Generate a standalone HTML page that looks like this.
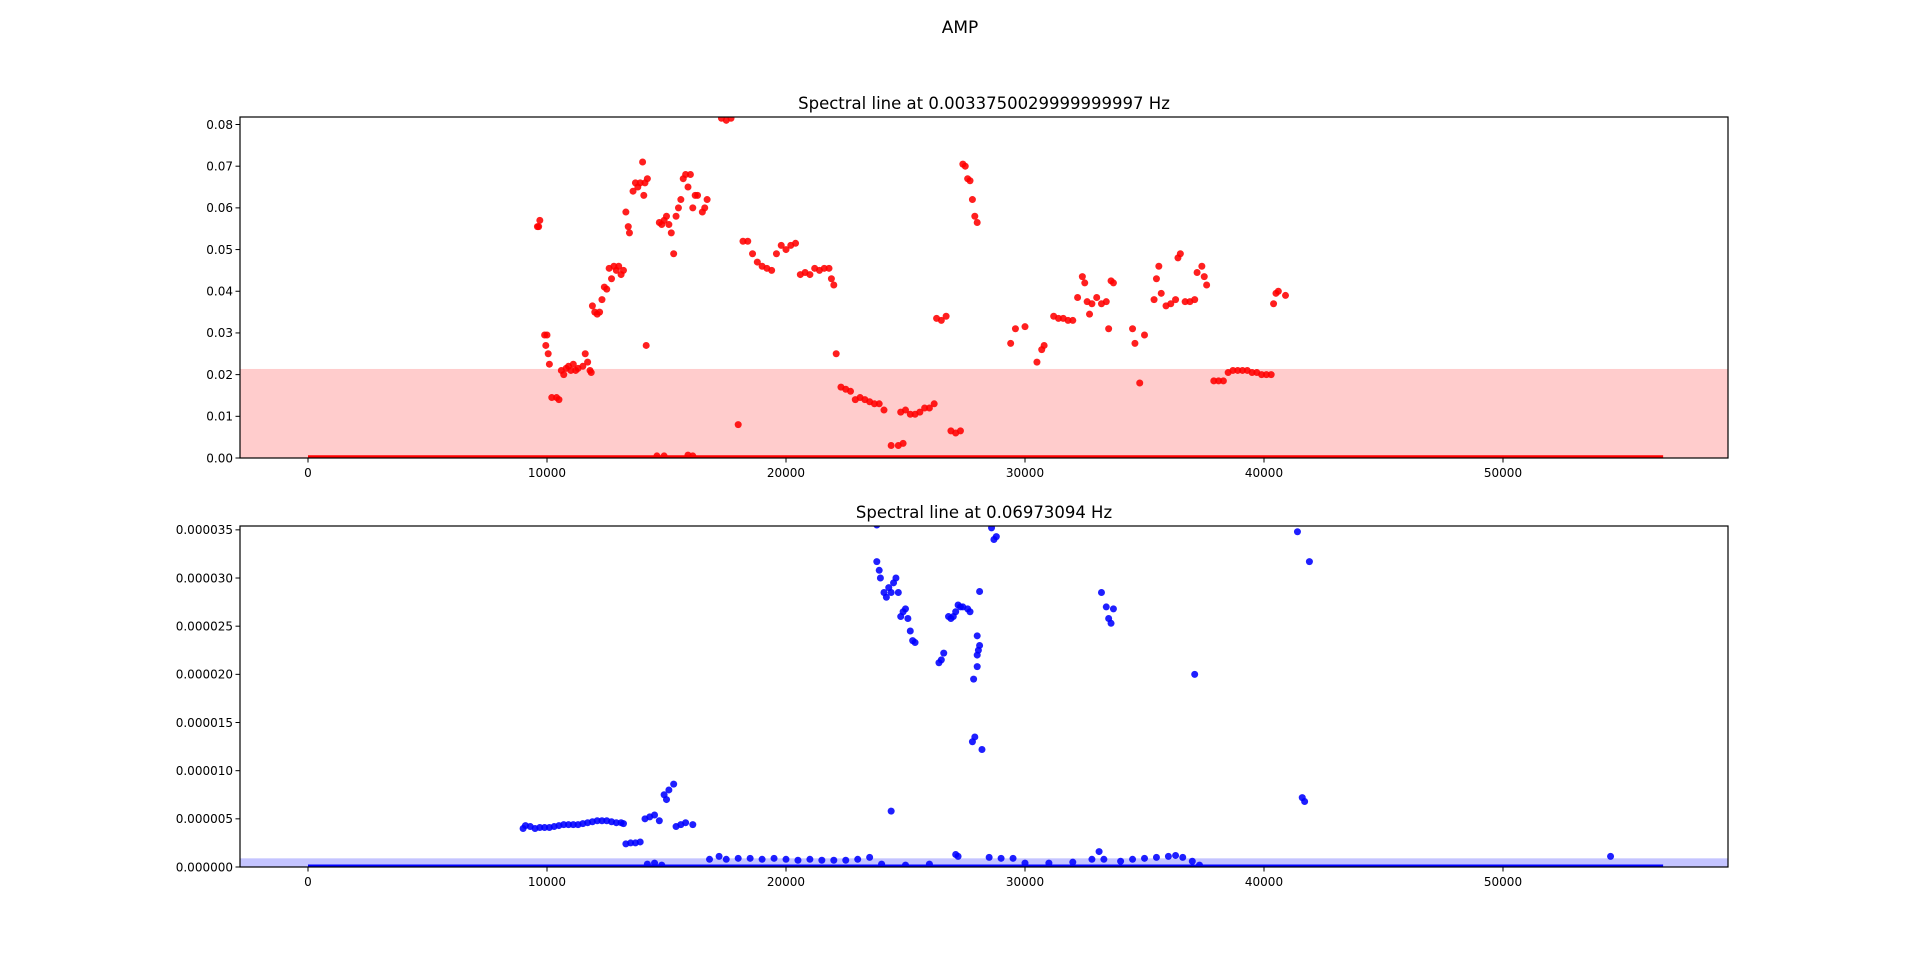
<!DOCTYPE html>
<html><head><meta charset="utf-8"><style>
html,body{margin:0;padding:0;background:#fff;}
svg{display:block;font-family:"DejaVu Sans","Liberation Sans",sans-serif;}
</style></head><body>
<svg id="fig" width="1920" height="974" viewBox="0 0 1920 974">
<text x="960" y="33" text-anchor="middle" font-size="17">AMP</text>
</svg>
<script>
// ---- data ----
const xTicks = [0,10000,20000,30000,40000,50000];
const topYTicks = [0,0.01,0.02,0.03,0.04,0.05,0.06,0.07,0.08];
const topYTickLabels = ["0.00","0.01","0.02","0.03","0.04","0.05","0.06","0.07","0.08"];
const botYTicks = [0,5e-6,10e-6,15e-6,20e-6,25e-6,30e-6,35e-6];
const botYTickLabels = ["0.000000","0.000005","0.000010","0.000015","0.000020","0.000025","0.000030","0.000035"];
const topThreshold = 0.02136;
const botThreshold = 0.9e-6;
const baseLineStart = 0, baseLineEnd = 56700;
const redX = [9600,9700,9650,9900,9950,10000,10050,10100,10200,10400,10500,10600,10700,10800,10900,11000,11100,11200,11300,11500,11600,11700,11800,11850,
11900,12000,12100,12200,12300,12400,12500,12600,12700,12800,12900,13000,13100,13200,13300,13400,13450,
13600,13700,13800,13900,14000,14100,14200,14150,14050,
14700,14800,14900,15000,15100,15200,15300,15400,15500,15600,15700,15800,15900,16000,16100,16200,16300,16500,16600,16700,
17300,17500,17700,18000,
18200,18400,18600,18800,19000,19200,19400,19600,19800,20000,20200,20400,20600,20800,21000,21200,21400,21600,21800,21900,22000,
22100,22300,22500,22700,22900,23100,23300,23500,23700,23900,24100,24400,24700,24900,
24800,25000,25200,25400,25600,25800,26000,26200,26300,26500,26700,26900,27100,27300,
27400,27500,27600,27700,27800,27900,28000,
29400,29600,30000,30500,30700,30800,
31200,31400,31600,31800,32000,32200,32400,32500,32600,32700,32800,33000,33200,33400,33500,33600,33700,
34500,34600,34800,35000,
35400,35500,35600,35700,35900,36100,36300,36400,36500,36700,36900,37100,37200,37400,37500,37600,
37900,38100,38300,38500,38700,38900,39100,39300,39500,39700,39900,40100,40300,
40400,40500,40600,40900,14600,14900,15900,16100];
const redY = [0.0555,0.057,0.0555,0.0295,0.027,0.0295,0.025,0.0225,0.0145,0.0145,0.014,0.021,0.02,0.0215,0.022,0.021,0.0225,0.021,0.0215,0.022,0.025,0.023,0.021,0.0205,
0.0365,0.035,0.0345,0.035,0.038,0.041,0.0405,0.0455,0.043,0.046,0.045,0.046,0.044,0.045,0.059,0.0555,0.054,
0.064,0.066,0.065,0.066,0.071,0.066,0.067,0.027,0.063,
0.0565,0.056,0.057,0.058,0.056,0.054,0.049,0.058,0.06,0.062,0.067,0.068,0.065,0.068,0.06,0.063,0.063,0.059,0.06,0.062,
0.0815,0.081,0.0815,0.008,
0.052,0.052,0.049,0.047,0.046,0.0455,0.045,0.049,0.051,0.05,0.051,0.0515,0.044,0.0445,0.044,0.0455,0.045,0.0455,0.0455,0.043,0.0415,
0.025,0.017,0.0165,0.016,0.014,0.0145,0.014,0.0135,0.013,0.013,0.0115,0.003,0.003,0.0035,
0.011,0.0115,0.0105,0.0105,0.011,0.012,0.012,0.013,0.0335,0.033,0.034,0.0065,0.006,0.0065,
0.0705,0.07,0.067,0.0665,0.062,0.058,0.0565,
0.0275,0.031,0.0315,0.023,0.026,0.027,
0.034,0.0335,0.0335,0.033,0.033,0.0385,0.0435,0.042,0.0375,0.0345,0.037,0.0385,0.037,0.0375,0.031,0.0425,0.042,
0.031,0.0275,0.018,0.0295,
0.038,0.043,0.046,0.0395,0.0365,0.037,0.038,0.048,0.049,0.0375,0.0375,0.038,0.0445,0.046,0.0435,0.0415,
0.0185,0.0185,0.0185,0.0205,0.021,0.021,0.021,0.021,0.0205,0.0205,0.02,0.02,0.02,
0.037,0.0395,0.04,0.039,0.0005,0.0005,0.0007,0.0005];
const blueX = [9000,9100,9300,9500,9700,9900,10100,10300,10500,10700,10900,11100,11300,11500,11700,11900,12100,12300,12500,12700,12900,13100,13200,
13300,13500,13700,13900,14100,14300,14500,14700,14900,15000,15100,15300,15400,15600,15800,16100,14200,14500,14800,
16800,17200,17500,18000,18500,19000,19500,20000,20500,21000,21500,22000,22500,23000,23500,
23800,23800,23900,23950,24100,24200,24300,24400,24500,24600,24700,24800,24900,25000,25100,25200,25300,25400,24400,
26400,26500,26600,26800,26900,27000,27100,27200,27300,27400,27600,27700,
27800,27900,28000,28000,28000,28050,28100,27850,28100,28200,28600,28700,28800,
33200,33400,33500,33600,33700,37100,41400,41900,41600,41700,54500,
27100,27200,28500,29000,29500,32800,33100,33300,34000,34500,35000,35500,36000,36300,36600,37000,37300,30000,31000,32000,26000,25000,24000];
const blueY = [4.0,4.3,4.2,4.0,4.1,4.1,4.1,4.2,4.3,4.4,4.4,4.4,4.4,4.5,4.6,4.7,4.8,4.8,4.8,4.7,4.6,4.6,4.5,
2.4,2.5,2.5,2.6,5.0,5.2,5.4,4.8,7.5,7.0,8.0,8.6,4.2,4.4,4.6,4.4,0.3,0.4,0.2,
0.8,1.1,0.8,0.9,0.9,0.8,0.9,0.8,0.7,0.8,0.7,0.7,0.7,0.8,1.0,
35.5,31.7,30.8,30.0,28.5,28.0,29.0,28.5,29.5,30.0,28.5,26.0,26.5,26.8,25.8,24.5,23.5,23.3,5.8,
21.2,21.5,22.2,26.0,25.8,26.0,26.5,27.2,27.0,27.0,26.8,26.5,
13.0,13.5,24.0,20.8,22.0,22.5,23.0,19.5,28.6,12.2,35.2,34.0,34.3,
28.5,27.0,25.8,25.3,26.8,20.0,34.8,31.7,7.2,6.8,1.1,
1.3,1.1,1.0,0.9,0.9,0.8,1.6,0.8,0.6,0.8,0.9,1.0,1.1,1.2,1.0,0.6,0.2,0.4,0.4,0.5,0.3,0.2,0.3];

// ---- layout ----
const NS = "http://www.w3.org/2000/svg";
const svg = document.getElementById('fig');
const L = 240, R = 1728;
const xMin = -2845, xMax = 59414;
function sx(v){ return L + (v - xMin) / (xMax - xMin) * (R - L); }
function mk(tag, attrs, parent){ const e = document.createElementNS(NS, tag); for (const k in attrs) e.setAttribute(k, attrs[k]); (parent||svg).appendChild(e); return e; }

function panel(cfg){
  const g = mk('g', {});
  
  
  const T = cfg.top, B = cfg.bottom;
  const sy = v => B - (v - cfg.yMin) / (cfg.yMax - cfg.yMin) * (B - T);
  const clipId = cfg.name + '-clip';
  const cp = mk('clipPath', {id: clipId}, g); mk('rect', {x: L, y: T, width: R - L, height: B - T}, cp);
  const shade = mk('rect', {x: L, y: sy(cfg.thr), width: R - L, height: B - sy(cfg.thr), fill: cfg.shade}, g);
  
  
  const pts = mk('g', {'clip-path': 'url(#' + clipId + ')'}, g);
  
  
  const base = mk('line', {x1: sx(baseLineStart), x2: sx(baseLineEnd), y1: sy(cfg.baseVal), y2: sy(cfg.baseVal), stroke: cfg.color, 'stroke-width': 3}, pts);
  
  
  for (let i = 0; i < cfg.xs.length; i++){
    const c = mk('circle', {cx: sx(cfg.xs[i]), cy: sy(cfg.ys[i] * cfg.scale), r: 3.5, fill: cfg.color, 'fill-opacity': 0.88}, pts);
    
    
  }
  const frame = mk('rect', {x: L, y: T, width: R - L, height: B - T, fill: 'none', stroke: '#000', 'stroke-width': 1.2}, g);
  
  
  xTicks.forEach(v => {
    const x = sx(v);
    mk('line', {x1: x, x2: x, y1: B, y2: B + 4.5, stroke: '#000', 'stroke-width': 1}, g);
    const t = mk('text', {x: x, y: B + 19, 'text-anchor': 'middle', 'font-size': 12}, g);
    t.textContent = String(v);
    
    
  });
  cfg.yTicks.forEach((v, i) => {
    const y = sy(v);
    mk('line', {x1: L - 4.5, x2: L, y1: y, y2: y, stroke: '#000', 'stroke-width': 1}, g);
    const t = mk('text', {x: L - 7, y: y + 4.3, 'text-anchor': 'end', 'font-size': 12}, g);
    t.textContent = cfg.yLabels[i];
    
    
  });
  const tt = mk('text', {x: (L + R) / 2, y: T - 8, 'text-anchor': 'middle', 'font-size': 16.5}, g);
  tt.textContent = cfg.title;
  
  
}

panel({name: 'top-panel', top: 117, bottom: 458, yMin: 0, yMax: 0.0818, yTicks: topYTicks, yLabels: topYTickLabels,
  thr: topThreshold, shade: '#ffcccc', color: '#ff0000', xs: redX, ys: redY, scale: 1, baseVal: 0.0003,
  title: 'Spectral line at 0.0033750029999999997 Hz'});
panel({name: 'bottom-panel', top: 526, bottom: 867, yMin: 0, yMax: 35.4e-6, yTicks: botYTicks, yLabels: botYTickLabels,
  thr: botThreshold, shade: '#c4c4ff', color: '#0000ff', xs: blueX, ys: blueY, scale: 1e-6, baseVal: 0.1e-6,
  title: 'Spectral line at 0.06973094 Hz'});
</script>
</body></html>
